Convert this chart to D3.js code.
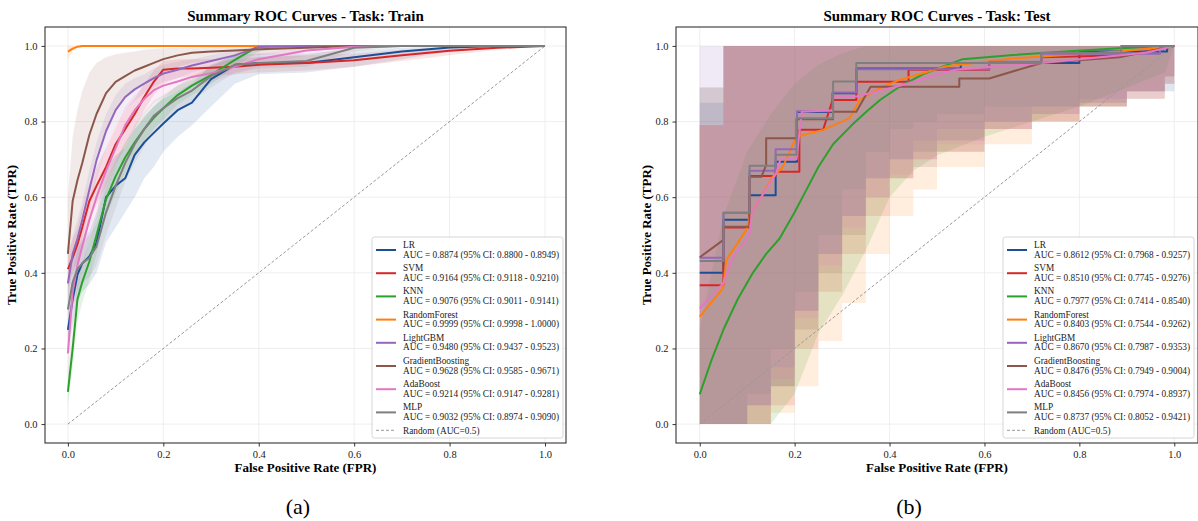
<!DOCTYPE html>
<html>
<head>
<meta charset="utf-8">
<script src="https://cdn.jsdelivr.net/npm/d3@7/dist/d3.min.js"></script>
<style>
  body { margin: 0; background: #fff; }
  svg text { font-family: "Liberation Serif", "Times New Roman", serif; }
</style>
</head>
<body>
<svg id="fig" width="1198" height="521"></svg>
<script>
// models and their colours
var models = ["LR", "SVM", "KNN", "RandomForest", "LightGBM", "GradientBoosting", "AdaBoost", "MLP"];
var colors = ["#1a4e96", "#d62728", "#2ca02c", "#ff7f0e", "#9467bd", "#8c564b", "#e377c2", "#7f7f7f"];

var trainAuc = [
  "AUC = 0.8874 (95% CI: 0.8800 - 0.8949)",
  "AUC = 0.9164 (95% CI: 0.9118 - 0.9210)",
  "AUC = 0.9076 (95% CI: 0.9011 - 0.9141)",
  "AUC = 0.9999 (95% CI: 0.9998 - 1.0000)",
  "AUC = 0.9480 (95% CI: 0.9437 - 0.9523)",
  "AUC = 0.9628 (95% CI: 0.9585 - 0.9671)",
  "AUC = 0.9214 (95% CI: 0.9147 - 0.9281)",
  "AUC = 0.9032 (95% CI: 0.8974 - 0.9090)"
];
var testAuc = [
  "AUC = 0.8612 (95% CI: 0.7968 - 0.9257)",
  "AUC = 0.8510 (95% CI: 0.7745 - 0.9276)",
  "AUC = 0.7977 (95% CI: 0.7414 - 0.8540)",
  "AUC = 0.8403 (95% CI: 0.7544 - 0.9262)",
  "AUC = 0.8670 (95% CI: 0.7987 - 0.9353)",
  "AUC = 0.8476 (95% CI: 0.7949 - 0.9004)",
  "AUC = 0.8456 (95% CI: 0.7974 - 0.8937)",
  "AUC = 0.8737 (95% CI: 0.8052 - 0.9421)"
];
var ticks = [0, 0.2, 0.4, 0.6, 0.8, 1.0];

// ---- train: common fpr grid, mean tpr + CI band per model
var trainFpr = [0, .01, .02, .03, .045, .06, .08, .1, .12, .14, .16, .18, .2, .23, .26, .3, .35, .4, .5, .6, .7, .8, .9, 1];
var trainTpr = [
  [.249,.33,.395,.425,.443,.48,.60,.63,.65,.712,.745,.77,.795,.83,.85,.912,.95,.955,.955,.97,.985,.996,1,1],
  [.41,.44,.475,.52,.59,.63,.68,.74,.78,.82,.865,.905,.937,.94,.94,.942,.945,.95,.955,.962,.975,.987,.995,1],
  [.085,.20,.33,.375,.43,.50,.595,.655,.705,.745,.78,.81,.835,.87,.895,.923,.963,1,1,1,1,1,1,1],
  [.985,.993,.998,1,1,1,1,1,1,1,1,1,1,1,1,1,1,1,1,1,1,1,1,1],
  [.372,.45,.49,.54,.62,.698,.775,.83,.865,.885,.90,.915,.927,.937,.948,.96,.975,.997,1,1,1,1,1,1],
  [.45,.59,.645,.69,.765,.82,.875,.905,.92,.935,.945,.955,.965,.975,.982,.985,.988,.991,.995,1,1,1,1,1],
  [.187,.35,.42,.47,.54,.60,.67,.73,.79,.83,.86,.883,.895,.906,.918,.928,.945,.965,.988,.998,1,1,1,1],
  [.303,.375,.41,.425,.44,.47,.56,.63,.69,.74,.78,.815,.835,.862,.882,.92,.95,.955,.96,.995,1,1,1,1]
];
var trainLow = [
  [.20,.26,.32,.35,.37,.40,.48,.52,.56,.60,.65,.68,.72,.76,.79,.84,.90,.925,.93,.945,.965,.985,.995,1],
  [.36,.40,.43,.47,.54,.58,.63,.69,.73,.78,.83,.87,.90,.915,.92,.92,.925,.93,.935,.945,.96,.975,.99,1],
  [.05,.15,.27,.32,.38,.45,.55,.61,.665,.71,.745,.78,.805,.845,.87,.90,.945,.985,1,1,1,1,1,1],
  [.965,.985,.995,1,1,1,1,1,1,1,1,1,1,1,1,1,1,1,1,1,1,1,1,1],
  [.32,.40,.44,.49,.57,.65,.73,.79,.83,.855,.875,.89,.905,.915,.93,.945,.96,.985,.998,1,1,1,1,1],
  [.30,.42,.50,.56,.64,.71,.78,.83,.86,.885,.90,.915,.93,.945,.955,.962,.968,.975,.985,.995,1,1,1,1],
  [.10,.27,.35,.41,.48,.54,.61,.68,.74,.785,.82,.85,.865,.88,.895,.905,.925,.945,.975,.99,1,1,1,1],
  [.22,.31,.35,.37,.39,.42,.50,.57,.64,.69,.735,.775,.80,.83,.855,.89,.93,.94,.945,.985,1,1,1,1]
];
var trainHigh = [
  [.30,.40,.46,.49,.51,.56,.68,.71,.73,.78,.81,.84,.86,.88,.90,.95,.975,.98,.98,.99,.995,1,1,1],
  [.46,.49,.52,.57,.64,.68,.73,.79,.83,.86,.90,.935,.96,.965,.965,.965,.965,.97,.975,.98,.99,.997,1,1],
  [.13,.25,.38,.43,.48,.55,.64,.70,.745,.78,.815,.84,.865,.895,.92,.945,.98,1,1,1,1,1,1,1],
  [1,1,1,1,1,1,1,1,1,1,1,1,1,1,1,1,1,1,1,1,1,1,1,1],
  [.42,.50,.54,.59,.67,.745,.82,.87,.90,.915,.925,.94,.95,.958,.965,.975,.99,1,1,1,1,1,1,1],
  [.60,.76,.83,.88,.93,.955,.97,.978,.982,.985,.99,.992,.994,.995,.996,.997,.998,.999,1,1,1,1,1,1],
  [.27,.42,.49,.53,.60,.66,.73,.78,.84,.87,.895,.915,.925,.935,.94,.95,.965,.982,.996,1,1,1,1,1],
  [.38,.44,.47,.48,.50,.53,.62,.69,.74,.79,.825,.855,.87,.895,.91,.945,.97,.972,.975,1,1,1,1,1]
];

// ---- test: step-like curves, each with its own points
var testFpr = [
  [0,.05,.05,.105,.105,.16,.16,.205,.205,.28,.28,.33,.33,.55,.55,.8,.8,.985,.985,1],
  [0,.05,.05,.105,.105,.16,.16,.21,.21,.26,.28,.33,.33,.44,.44,.61,.61,.72,.72,.9,1],
  [0,.025,.05,.08,.112,.14,.168,.2,.225,.25,.281,.32,.351,.38,.421,.47,.554,.66,.77,.884,1],
  [0,.049,.056,.098,.105,.126,.154,.175,.204,.26,.316,.337,.379,.421,.52,.66,.884,1],
  [0,.05,.05,.105,.105,.16,.16,.205,.205,.28,.28,.33,.33,.61,.61,.72,.72,.97,.97,1],
  [0,.05,.05,.105,.105,.13,.14,.14,.204,.204,.281,.281,.33,.36,.547,.547,.61,.72,.884,1],
  [0,.05,.07,.098,.105,.11,.161,.17,.204,.215,.281,.281,.33,.414,.54,.72,.94,1],
  [0,.05,.05,.105,.105,.16,.16,.204,.204,.281,.281,.33,.33,.72,.72,.888,.888,1]
];
var testTpr = [
  [.40,.40,.54,.54,.605,.605,.694,.694,.825,.825,.875,.875,.94,.94,.955,.955,.985,.985,1,1],
  [.367,.367,.52,.52,.656,.656,.667,.667,.778,.778,.857,.857,.905,.905,.937,.937,.955,.955,.97,.975,1],
  [.079,.17,.25,.33,.40,.45,.49,.56,.62,.68,.74,.79,.826,.857,.892,.925,.965,.976,.985,.994,1],
  [.284,.359,.434,.513,.548,.593,.654,.68,.76,.778,.809,.857,.888,.91,.946,.967,.985,1],
  [.44,.44,.559,.559,.67,.67,.727,.727,.827,.827,.877,.877,.938,.938,.958,.958,.979,.979,1,1],
  [.441,.487,.522,.522,.654,.654,.685,.756,.756,.806,.806,.826,.826,.892,.892,.914,.914,.955,.97,1],
  [.306,.373,.443,.487,.505,.56,.663,.70,.70,.826,.83,.866,.866,.892,.937,.955,.982,1],
  [.431,.431,.559,.559,.683,.683,.712,.712,.809,.809,.906,.906,.955,.955,.982,.982,1,1]
];
// CI bands of the test curves on a coarse fpr grid
var testBandFpr = [0, .05, .1, .15, .2, .25, .3, .35, .4, .45, .5, .6, .7, .8, .9, .98, 1];
var testLow = [
  [0,0,.05,.10,.30,.45,.55,.65,.70,.72,.75,.80,.82,.85,.88,.88,1],
  [0,0,0,.05,.20,.35,.45,.55,.65,.70,.72,.78,.80,.84,.86,.90,1],
  [0,0,0,0,.08,.24,.34,.46,.60,.67,.71,.76,.80,.84,.89,.93,1],
  [0,0,0,.03,.10,.22,.32,.45,.55,.62,.68,.74,.80,.84,.88,.92,1],
  [0,0,.05,.15,.30,.45,.55,.65,.70,.75,.78,.80,.84,.86,.88,.92,1],
  [0,0,0,.10,.25,.40,.50,.60,.65,.68,.72,.78,.80,.84,.86,.90,1],
  [0,0,.05,.12,.28,.42,.52,.60,.66,.70,.74,.78,.82,.85,.88,.92,1],
  [0,0,.08,.20,.35,.50,.62,.72,.78,.80,.82,.84,.84,.84,.88,.92,1]
];
var testHigh = [
  [.85,1,1,1,1,1,1,1,1,1,1,1,1,1,1,1,1],
  [.79,1,1,1,1,1,1,1,1,1,1,1,1,1,1,1,1],
  [.25,.55,.72,.82,.90,.95,.98,1,1,1,1,1,1,1,1,1,1],
  [.79,1,1,1,1,1,1,1,1,1,1,1,1,1,1,1,1],
  [1,1,1,1,1,1,1,1,1,1,1,1,1,1,1,1,1],
  [.89,1,1,1,1,1,1,1,1,1,1,1,1,1,1,1,1],
  [.79,1,1,1,1,1,1,1,1,1,1,1,1,1,1,1,1],
  [.89,1,1,1,1,1,1,1,1,1,1,1,1,1,1,1,1]
];

var svg = d3.select("#fig");

// draws one subplot
function drawPanel(p) {
  var x = d3.scaleLinear().domain(p.xdom).range([p.left, p.right]);
  var y = d3.scaleLinear().domain([-0.05, 1.05]).range([p.bottom, p.top]);
  var g = svg.append("g");

  // grid
  g.selectAll(".gx").data(ticks).enter().append("line")
    .attr("x1", d => x(d)).attr("x2", d => x(d))
    .attr("y1", p.top).attr("y2", p.bottom)
    .attr("stroke", "#ebebeb").attr("stroke-width", 0.8);
  g.selectAll(".gy").data(ticks).enter().append("line")
    .attr("y1", d => y(d)).attr("y2", d => y(d))
    .attr("x1", p.left).attr("x2", p.right)
    .attr("stroke", "#ebebeb").attr("stroke-width", 0.8);

  var clip = "clip" + p.id;
  g.append("clipPath").attr("id", clip).append("rect")
    .attr("x", p.left).attr("y", p.top).attr("width", p.right - p.left).attr("height", p.bottom - p.top);
  var plot = g.append("g").attr("clip-path", "url(#" + clip + ")");

  // bands first
  models.forEach(function(m, i) {
    var pts = p.bandFpr.map((f, k) => [f, p.low[i][k], p.high[i][k]]);
    var area = d3.area()
      .x(d => x(d[0])).y0(d => y(d[1])).y1(d => y(d[2]))
      .curve(p.bandCurve(i));
    plot.append("path").datum(pts).attr("d", area)
      .attr("fill", colors[i]).attr("fill-opacity", p.bandAlpha).attr("stroke", "none");
  });

  // random line
  plot.append("line")
    .attr("x1", x(0)).attr("y1", y(0)).attr("x2", x(1)).attr("y2", y(1))
    .attr("stroke", "#999").attr("stroke-width", 1).attr("stroke-dasharray", "3,2");

  // mean curves
  models.forEach(function(m, i) {
    var fpr = p.fpr(i);
    var pts = fpr.map((f, k) => [f, p.tpr[i][k]]);
    var line = d3.line().x(d => x(d[0])).y(d => y(d[1]));
    plot.append("path").datum(pts).attr("d", line)
      .attr("fill", "none").attr("stroke", colors[i]).attr("stroke-width", 2)
      .attr("stroke-linejoin", "round");
  });

  // frame
  g.append("rect").attr("x", p.left).attr("y", p.top)
    .attr("width", p.right - p.left).attr("height", p.bottom - p.top)
    .attr("fill", "none").attr("stroke", "#333").attr("stroke-width", 1.1);

  // axes
  var xa = g.append("g").attr("transform", "translate(0," + p.bottom + ")")
    .call(d3.axisBottom(x).tickValues(ticks).tickFormat(d3.format(".1f")).tickSize(3.5).tickPadding(4));
  var ya = g.append("g").attr("transform", "translate(" + p.left + ",0)")
    .call(d3.axisLeft(y).tickValues(ticks).tickFormat(d3.format(".1f")).tickSize(3.5).tickPadding(4));
  [xa, ya].forEach(function(a) {
    a.select(".domain").remove();
    a.selectAll(".tick line").attr("stroke", "#333");
    a.selectAll(".tick text").attr("fill", "#222").style("font-size", "10.5px")
      .style("font-family", "'Liberation Serif', serif");
  });

  // title and labels
  var cx = (p.left + p.right) / 2;
  g.append("text").attr("x", cx).attr("y", 21).attr("text-anchor", "middle")
    .style("font-size", "15px").style("font-weight", "bold").text(p.title);
  g.append("text").attr("x", cx).attr("y", 472).attr("text-anchor", "middle")
    .style("font-size", "13px").style("font-weight", "bold").text("False Positive Rate (FPR)");
  g.append("text").attr("transform", "translate(" + p.ylabX + "," + ((p.top + p.bottom) / 2) + ") rotate(-90)")
    .attr("text-anchor", "middle").style("font-size", "13px").style("font-weight", "bold")
    .text("True Positive Rate (TPR)");
  g.append("text").attr("x", p.capX).attr("y", 514).attr("text-anchor", "middle")
    .style("font-size", "22px").text(p.caption);

  // legend
  var L = g.append("g");
  L.append("rect").attr("x", p.legX).attr("y", 237).attr("width", 191).attr("height", 201)
    .attr("rx", 2.5).attr("fill", "#fff").attr("fill-opacity", 0.8)
    .attr("stroke", "#cccccc").attr("stroke-width", 0.8);
  models.forEach(function(m, i) {
    var sy = 250 + i * 23.2;
    L.append("line").attr("x1", p.legX + 4).attr("x2", p.legX + 24).attr("y1", sy).attr("y2", sy)
      .attr("stroke", colors[i]).attr("stroke-width", 2);
    L.append("text").attr("x", p.legX + 31).attr("y", sy - 2).style("font-size", "9.3px").attr("fill", "#222").text(m);
    L.append("text").attr("x", p.legX + 31).attr("y", sy + 7.5).style("font-size", "9.3px").attr("fill", "#222").text(p.auc[i]);
  });
  L.append("line").attr("x1", p.legX + 4).attr("x2", p.legX + 24).attr("y1", 430.3).attr("y2", 430.3)
    .attr("stroke", "#999").attr("stroke-width", 1).attr("stroke-dasharray", "3,2");
  L.append("text").attr("x", p.legX + 31).attr("y", 433.5).style("font-size", "9.3px").attr("fill", "#222")
    .text("Random (AUC=0.5)");
}

drawPanel({
  id: "a", left: 45, right: 566, top: 27, bottom: 443, xdom: [-0.048, 1.044],
  title: "Summary ROC Curves - Task: Train", caption: "(a)", capX: 298, ylabX: 16, legX: 372,
  fpr: function() { return trainFpr; }, tpr: trainTpr,
  bandFpr: trainFpr, low: trainLow, high: trainHigh, bandAlpha: 0.12,
  bandCurve: function() { return d3.curveLinear; }, auc: trainAuc
});
drawPanel({
  id: "b", left: 676, right: 1198, top: 27, bottom: 443, xdom: [-0.05, 1.05],
  title: "Summary ROC Curves - Task: Test", caption: "(b)", capX: 909, ylabX: 651, legX: 1003,
  fpr: function(i) { return testFpr[i]; }, tpr: testTpr,
  bandFpr: testBandFpr, low: testLow, high: testHigh, bandAlpha: 0.14,
  bandCurve: function(i) { return i === 2 ? d3.curveLinear : d3.curveStepAfter; }, auc: testAuc
});
</script>
</body>
</html>
